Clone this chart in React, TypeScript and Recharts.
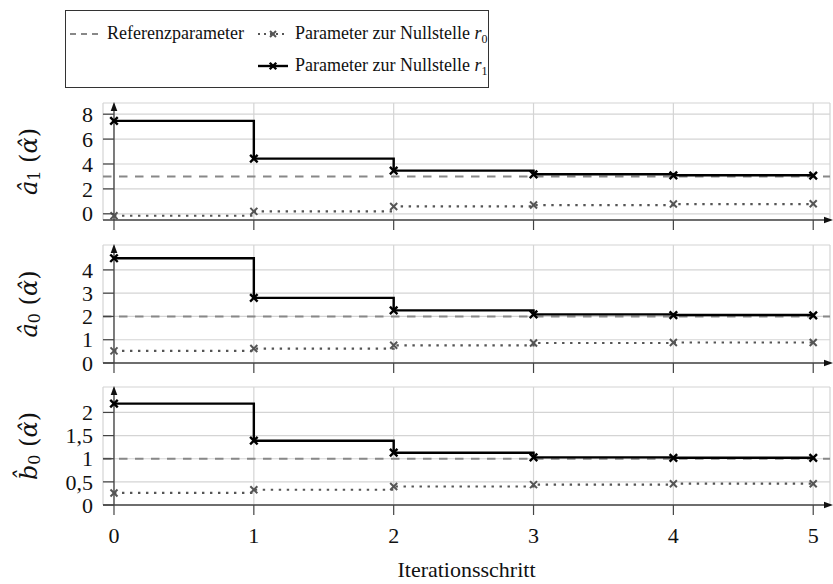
import React from 'react';
import { LineChart, Line, XAxis, YAxis, CartesianGrid, ReferenceLine } from 'recharts';

const FONT = 'Liberation Serif, DejaVu Serif, serif';
const MATH_FONT = 'DejaVu Serif, Liberation Serif, serif';

// Iterationsschritte
const steps = [0, 1, 2, 3, 4, 5];
const xTicks = [0, 1, 2, 3, 4, 5];

// â1
const a1R0 = [-0.16, 0.19, 0.59, 0.7, 0.78, 0.8];
const a1R1 = [7.46, 4.43, 3.47, 3.17, 3.09, 3.07];
const a1Ref = 3;
const a1Ticks = [0, 2, 4, 6, 8];

// â0
const a0R0 = [0.52, 0.62, 0.76, 0.86, 0.88, 0.88];
const a0R1 = [4.5, 2.8, 2.26, 2.09, 2.06, 2.05];
const a0Ref = 2;
const a0Ticks = [0, 1, 2, 3, 4];

// b̂0
const b0R0 = [0.26, 0.33, 0.4, 0.44, 0.46, 0.46];
const b0R1 = [2.19, 1.39, 1.13, 1.03, 1.02, 1.02];
const b0Ref = 1;
const b0Ticks = [0, 0.5, 1, 1.5, 2];

const AXIS = '#444';
const GRID = '#d4d4d4';
const R1_COLOR = '#000';
const R0_COLOR = '#555';
const REF_COLOR = '#888';

const crossDot = (color: string, size: number, width: number) => (props: any) => {
  const { cx, cy, index } = props;
  if (cx == null || cy == null) return <g key={`n-${index}`} />;
  const s = size / 2;
  return (
    <g key={`c-${index}`}>
      <line x1={cx - s} y1={cy - s} x2={cx + s} y2={cy + s} stroke={color} strokeWidth={width} />
      <line x1={cx - s} y1={cy + s} x2={cx + s} y2={cy - s} stroke={color} strokeWidth={width} />
    </g>
  );
};

const yAxisArrow = (props: any) => {
  const { x1, y1, y2 } = props;
  const top = Math.min(y1, y2);
  const bot = Math.max(y1, y2);
  return (
    <g>
      <line x1={x1} x2={x1} y1={top + 6} y2={bot} stroke={AXIS} strokeWidth={1.3} />
      <path d={`M${x1},${top - 1} L${x1 - 3.3},${top + 8} L${x1 + 3.3},${top + 8} Z`} fill="#111" />
    </g>
  );
};

const xAxisArrow = (props: any) => {
  const { x1, x2, y1 } = props;
  const left = Math.min(x1, x2);
  const right = Math.max(x1, x2);
  return (
    <g>
      <line x1={left} x2={right - 2} y1={y1} y2={y1} stroke={AXIS} strokeWidth={1.3} />
      <path d={`M${right + 3},${y1} L${right - 6},${y1 - 3.3} L${right - 6},${y1 + 3.3} Z`} fill="#111" />
    </g>
  );
};

const yTick = (fmt: (v: number) => string) => (props: any) => {
  const { x, y, payload } = props;
  return (
    <g>
      <line x1={x} x2={x + 11} y1={y} y2={y} stroke={AXIS} strokeWidth={1.2} />
      <text x={x - 10} y={y} dy="0.35em" textAnchor="end" fontSize={22} fontFamily={FONT} fill="#111">
        {fmt(payload.value)}
      </text>
    </g>
  );
};

const yLabel = (sym: string, sub: string) => (props: any) => {
  const vb = props.viewBox || {};
  const cy = (vb.y ?? 0) + (vb.height ?? 0) / 2;
  const cx = 29;
  return (
    <text
      transform={`rotate(-90, ${cx}, ${cy})`}
      x={cx}
      y={cy}
      textAnchor="middle"
      dominantBaseline="central"
      fontSize={24}
      fontFamily={MATH_FONT}
      fill="#111"
    >
      <tspan fontStyle="italic">{sym}</tspan>
      <tspan fontSize={16} dy={5}>{sub}</tspan>
      <tspan dy={-5}>{'\u00A0('}</tspan>
      <tspan fontStyle="italic">{'\u03B1\u0302'}</tspan>
      <tspan>)</tspan>
    </text>
  );
};

interface PanelProps {
  r0: number[];
  r1: number[];
  refValue: number;
  ticks: number[];
  domain: [number, number];
  sym: string;
  sub: string;
  top: number;
  height: number;
  xAxisHeight: number;
  last?: boolean;
}

const Panel: React.FC<PanelProps> = ({ r0, r1, refValue, ticks, domain, sym, sub, top, height, xAxisHeight, last }) => {
  const data = steps.map((x, i) => ({ x, r0: r0[i], r1: r1[i] }));
  const fmt = (v: number) => String(v).replace('.', ',');
  return (
    <div style={{ position: 'absolute', left: 0, top }}>
      <LineChart width={833} height={height} data={data} margin={{ top: 10, right: 3, left: 0, bottom: 0 }}>
        <CartesianGrid stroke={GRID} strokeWidth={1.2} />
        <XAxis
          dataKey="x"
          type="number"
          domain={[-0.0786, 5.12]}
          allowDataOverflow
          ticks={xTicks}
          interval={0}
          height={xAxisHeight}
          axisLine={false}
          tickLine={{ stroke: AXIS, strokeWidth: 1.2 }}
          tickSize={10}
          tickMargin={12}
          tick={last ? { fontSize: 22, fontFamily: FONT, fill: '#111' } : () => <g />}
          label={
            last
              ? { value: 'Iterationsschritt', position: 'insideBottom', offset: 7, fontSize: 22, fontFamily: FONT, fill: '#111' }
              : undefined
          }
        />
        <YAxis
          type="number"
          domain={domain}
          allowDataOverflow
          ticks={ticks}
          interval={0}
          width={103}
          axisLine={false}
          tickLine={false}
          tickSize={0}
          tickMargin={0}
          tick={yTick(fmt)}
          label={yLabel(sym, sub)}
        />
        <ReferenceLine y={refValue} stroke={REF_COLOR} strokeWidth={2} strokeDasharray="8.5 7.5" />
        <ReferenceLine y={domain[0]} ifOverflow="visible" shape={xAxisArrow} />
        <ReferenceLine x={0} ifOverflow="visible" shape={yAxisArrow} />
        <Line
          type="stepAfter"
          dataKey="r0"
          stroke={R0_COLOR}
          strokeWidth={2.2}
          strokeDasharray="2.4 5.6"
          dot={crossDot(R0_COLOR, 7, 2)}
          activeDot={false}
          isAnimationActive={false}
        />
        <Line
          type="stepAfter"
          dataKey="r1"
          stroke={R1_COLOR}
          strokeWidth={2.4}
          dot={crossDot(R1_COLOR, 7.5, 2.4)}
          activeDot={false}
          isAnimationActive={false}
        />
      </LineChart>
    </div>
  );
};

const Legend: React.FC = () => {
  const row = (top: number): React.CSSProperties => ({ position: 'absolute', top, lineHeight: '24px', whiteSpace: 'nowrap' });
  return (
    <div
      style={{
        position: 'absolute',
        left: 65,
        top: 10,
        width: 424,
        height: 78,
        border: '1px solid #333',
        boxSizing: 'border-box',
        background: '#fff',
        fontFamily: FONT,
        fontSize: 18,
        color: '#111',
      }}
    >
      <svg style={{ position: 'absolute', left: 4, top: 16 }} width={28} height={14}>
        <line x1={0} x2={28} y1={7} y2={7} stroke={REF_COLOR} strokeWidth={2} strokeDasharray="6 5" />
      </svg>
      <div style={{ ...row(10), left: 41 }}>Referenzparameter</div>
      <svg style={{ position: 'absolute', left: 192, top: 16 }} width={30} height={14}>
        <line x1={0} x2={30} y1={7} y2={7} stroke={R0_COLOR} strokeWidth={2} strokeDasharray="2 4" />
        {crossDot(R0_COLOR, 6, 2)({ cx: 15, cy: 7, index: 0 })}
      </svg>
      <div style={{ ...row(10), left: 229 }}>
        Parameter zur Nullstelle <i>r</i>
        <span style={{ fontSize: 12, position: 'relative', top: 4 }}>0</span>
      </div>
      <svg style={{ position: 'absolute', left: 192, top: 48 }} width={30} height={14}>
        <line x1={0} x2={30} y1={7} y2={7} stroke={R1_COLOR} strokeWidth={2.4} />
        {crossDot(R1_COLOR, 6.5, 2.4)({ cx: 15, cy: 7, index: 0 })}
      </svg>
      <div style={{ ...row(42), left: 229 }}>
        Parameter zur Nullstelle <i>r</i>
        <span style={{ fontSize: 12, position: 'relative', top: 4 }}>1</span>
      </div>
    </div>
  );
};

export default function App() {
  return (
    <div style={{ position: 'absolute', left: 0, top: 0, width: 833, height: 584, background: '#fff' }}>
      <Legend />
      <Panel r0={a1R0} r1={a1R1} refValue={a1Ref} ticks={a1Ticks} domain={[-0.5, 8.9]} sym="â" sub="1" top={93} height={147} xAxisHeight={20} />
      <Panel r0={a0R0} r1={a0R1} refValue={a0Ref} ticks={a0Ticks} domain={[0, 5.07]} sym="â" sub="0" top={235} height={148} xAxisHeight={20} />
      <Panel r0={b0R0} r1={b0R1} refValue={b0Ref} ticks={b0Ticks} domain={[0, 2.55]} sym={'b\u0302'} sub="0" top={377} height={207} xAxisHeight={79} last />
    </div>
  );
}
